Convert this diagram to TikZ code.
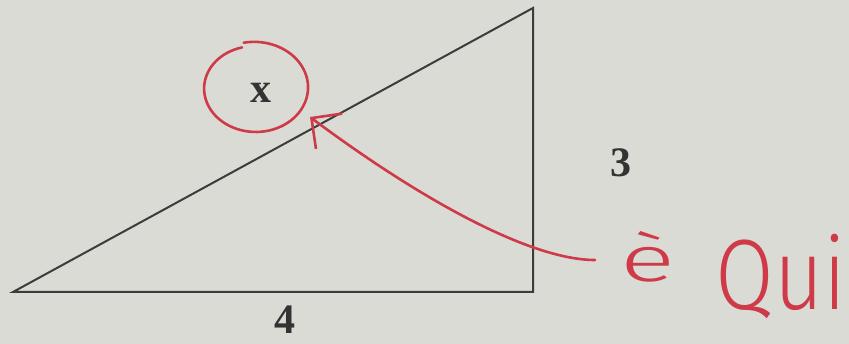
\documentclass[tikz,border=0pt]{standalone}
\usepackage{fontspec}
\setmainfont{Liberation Serif}
\newfontfamily\penfont{Fira Sans Light}
\usetikzlibrary{arrows.meta}
\definecolor{paper}{RGB}{219,219,213}
\definecolor{pencil}{RGB}{60,60,60}
\definecolor{redpen}{RGB}{206,58,72}

\begin{document}
\begin{tikzpicture}[x=1pt,y=1pt,
  side/.style={pencil, line width=2pt, line join=miter},
  lbl/.style={font=\fontsize{42}{42}\selectfont\bfseries, text=pencil!85!black, inner sep=0pt},
  pen/.style={redpen, line width=2.6pt, line cap=round, line join=round}]
\fill[paper] (0,0) rectangle (849,344);
\useasboundingbox (0,0) rectangle (849,344);

\coordinate (A) at (13,52);
\coordinate (B) at (533,52);
\coordinate (C) at (533,336);
\draw[side] (A) -- (B) -- (C) -- cycle;

\node[lbl] (four) at (285,24) {4};
\node[lbl] (three) at (621,181) {3};
\node[lbl] (xlbl) at (261,251) {x};

\draw[domain=105:462, variable=\t, smooth, samples=80, pen]
  plot ({255+(50+0.012*(\t-105))*cos(\t)}, {256+(42+0.012*(\t-105))*sin(\t)});

\coordinate (start) at (595,84);
\coordinate (here) at (310,227);
\draw[pen, -{Straight Barb[length=22pt, width=44pt, line width=2.6pt]}]
  (start) .. controls (530,84) and (420,145) .. (here);

\node[redpen, font=\penfont\fontsize{64}{64}\selectfont, xscale=1.6, anchor=base] (egrave) at (648,62) {è};
\node[redpen, font=\penfont\fontsize{100}{100}\selectfont, xscale=0.85, anchor=base] (qui) at (781,34) {Qui};
\end{tikzpicture}
\end{document}
